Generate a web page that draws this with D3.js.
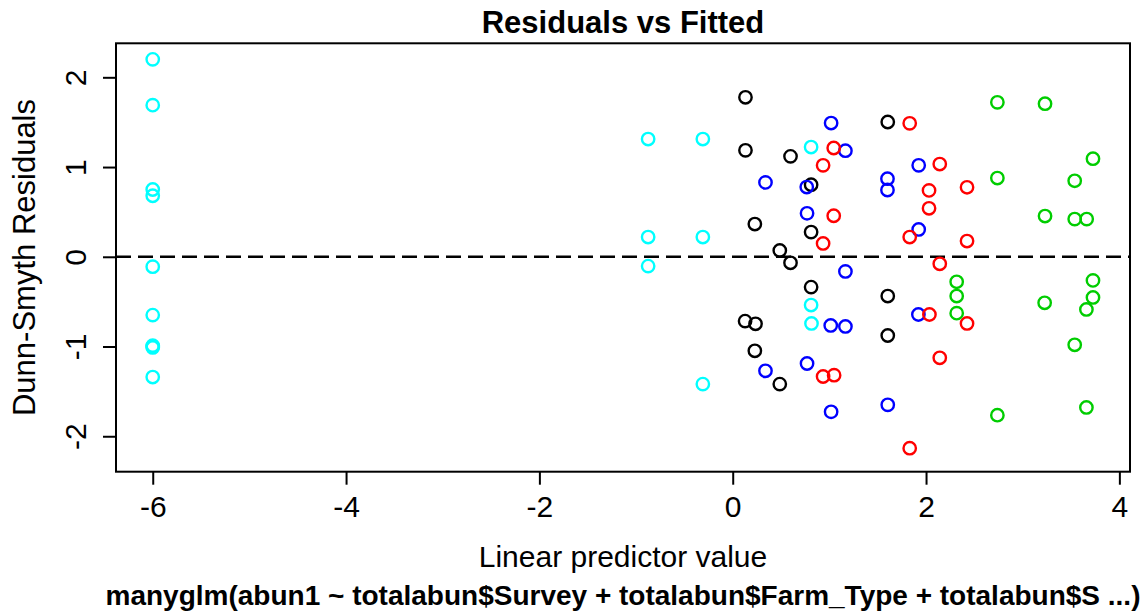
<!DOCTYPE html>
<html lang="en">
  <head>
    <meta charset="utf-8">
    <title>Residuals vs Fitted</title>
    <script src="https://d3js.org/d3.v7.min.js"></script>
    <style>
      body { margin: 0; background: #fff; }
      text { font-family: "Liberation Sans", Arial, sans-serif; fill: #000; }
      .tick line { stroke: #000; stroke-width: 2; }
    </style>
  </head>
  <body>
    <div id="chart"></div>
    <script>
      "use strict"
      // fitted values (linear predictor) and Dunn-Smyth residuals, one pair of arrays per colour
      var cyanFit   = [-6, -6, -6, -6, -6, -6, -6, -6, -6, -6, -0.875, -0.875, -0.875, -0.309, -0.309, -0.309, 0.811, 0.811, 0.815];
      var cyanRes   = [2.20, 1.69, 0.75, 0.68, -0.11, -0.65, -0.99, -1.01, -1.34, -1.00, 1.312, 0.220, -0.104, 1.312, 0.220, -1.419, 1.223, -0.538, -0.743];
      var blackFit  = [0.132, 0.132, 0.128, 0.598, 0.598, 0.811, 0.811, 0.811, 0.229, 0.236, 0.229, 0.487, 0.487, 1.604, 1.604, 1.604];
      var blackRes  = [1.777, 1.186, -0.717, 1.119, -0.067, 0.803, 0.275, -0.338, 0.365, -0.747, -1.048, 0.071, -1.419, 1.502, -0.438, -0.877];
      var blueFit   = [1.018, 1.014, 1.018, 1.166, 1.166, 1.166, 0.339, 0.339, 0.766, 0.769, 0.769, 1.924, 1.924, 1.921, 1.601, 1.601, 1.604];
      var blueRes   = [1.49, -0.765, -1.728, 1.182, -0.163, -0.776, 0.829, -1.271, 0.777, 0.484, -1.189, 1.019, 0.305, -0.643, 0.870, 0.744, -1.650];
      var redFit    = [1.045, 1.045, 1.049, 0.935, 0.935, 0.935, 1.831, 1.831, 1.831, 2.142, 2.142, 2.142, 2.031, 2.031, 2.035, 2.424, 2.424, 2.424];
      var redRes    = [1.212, 0.457, -1.319, 1.019, 0.149, -1.334, 1.487, 0.220, -2.133, 1.033, -0.078, -1.126, 0.740, 0.540, -0.643, 0.774, 0.175, -0.743];
      var greenFit  = [2.738, 2.738, 2.738, 3.231, 3.231, 3.227, 3.727, 3.727, 3.727, 3.538, 3.538, 3.538, 3.662, 3.659, 3.659, 2.317, 2.317, 2.317];
      var greenRes  = [1.721, 0.877, -1.765, 1.706, 0.454, -0.513, 1.093, -0.263, -0.453, 0.847, 0.420, -0.981, 0.420, -0.587, -1.679, -0.279, -0.438, -0.628];

      var xTicks = [-6, -4, -2, 0, 2, 4];
      var yTicks = [-2, -1, 0, 1, 2];

      var series = [
        {cor: "#00FFFF", fit: cyanFit,  res: cyanRes},
        {cor: "#000000", fit: blackFit, res: blackRes},
        {cor: "#0000FF", fit: blueFit,  res: blueRes},
        {cor: "#FF0000", fit: redFit,   res: redRes},
        {cor: "#00CD00", fit: greenFit, res: greenRes}
      ];

      var larguraSVG = 1148, alturaSVG = 615;
      var margin = {top: 43.3, right: 18, bottom: 143.3, left: 116},
          larguraVis = larguraSVG - margin.left - margin.right,
          alturaVis = alturaSVG - margin.top - margin.bottom;

      var svg = d3.select('#chart')
        .append('svg')
          .attr('width', larguraSVG)
          .attr('height', alturaSVG);
      var grafico = svg.append('g')
          .attr('transform', 'translate(' + margin.left + ',' + margin.top + ')');

      // escalas (limites como o R: 4% alem dos dados)
      var x = d3.scaleLinear().domain([-6.38, 4.11]).range([0, larguraVis]);
      var y = d3.scaleLinear().domain([-2.395, 2.379]).range([alturaVis, 0]);

      // linha tracejada em zero
      grafico.append('line')
        .attr('x1', 0).attr('x2', larguraVis)
        .attr('y1', y(0)).attr('y2', y(0))
        .attr('stroke', '#000')
        .attr('stroke-width', 2.5)
        .attr('stroke-dasharray', '15,7');

      // pontos
      series.forEach(function(s) {
        var pts = s.fit.map(function(f, i) { return {fit: f, res: s.res[i]}; });
        grafico.selectAll(null)
          .data(pts)
          .enter()
            .append('circle')
              .attr('r', 6.2)
              .attr('cx', d => x(d.fit))
              .attr('cy', d => y(d.res))
              .attr('fill', 'none')
              .attr('stroke', s.cor)
              .attr('stroke-width', 2.4);
      });

      // eixos (hifen simples como no R)
      var fmt = d => String(d);
      var eixoX = grafico.append('g')
        .attr('transform', 'translate(0,' + alturaVis + ')')
        .call(d3.axisBottom(x).tickValues(xTicks).tickSize(13).tickFormat(fmt));
      eixoX.select('.domain').remove();
      eixoX.selectAll('text')
        .attr('y', 45.5).attr('dy', 0)
        .style('font-size', '30px');

      var eixoY = grafico.append('g')
        .call(d3.axisLeft(y).tickValues(yTicks).tickSize(13).tickFormat(fmt));
      eixoY.select('.domain').remove();
      eixoY.selectAll('text')
        .attr('x', null).attr('dy', 0)
        .attr('transform', 'translate(-30,0) rotate(-90)')
        .style('text-anchor', 'middle')
        .style('font-size', '30px');
      grafico.selectAll('.tick text').style('font-family', '"Liberation Sans", Arial, sans-serif').attr('fill', '#000');

      // caixa
      grafico.append('rect')
        .attr('width', larguraVis).attr('height', alturaVis)
        .attr('fill', 'none').attr('stroke', '#000').attr('stroke-width', 2);

      // textos
      svg.append('text')
        .attr('x', margin.left + larguraVis / 2).attr('y', 33.3)
        .attr('text-anchor', 'middle')
        .style('font-size', '31px').style('font-weight', 'bold')
        .text('Residuals vs Fitted');

      svg.append('text')
        .attr('transform', 'translate(35,' + (margin.top + alturaVis / 2) + ') rotate(-90)')
        .attr('text-anchor', 'middle')
        .style('font-size', '31px')
        .text('Dunn-Smyth Residuals');

      svg.append('text')
        .attr('x', margin.left + larguraVis / 2).attr('y', 567.3)
        .attr('text-anchor', 'middle')
        .style('font-size', '30px')
        .text('Linear predictor value');

      svg.append('text')
        .attr('x', margin.left + larguraVis / 2).attr('y', 605)
        .attr('text-anchor', 'middle')
        .style('font-size', '28px').style('font-weight', 'bold')
        .text('manyglm(abun1 ~ totalabun$Survey + totalabun$Farm_Type + totalabun$S ...)');
    </script>
  </body>
</html>
